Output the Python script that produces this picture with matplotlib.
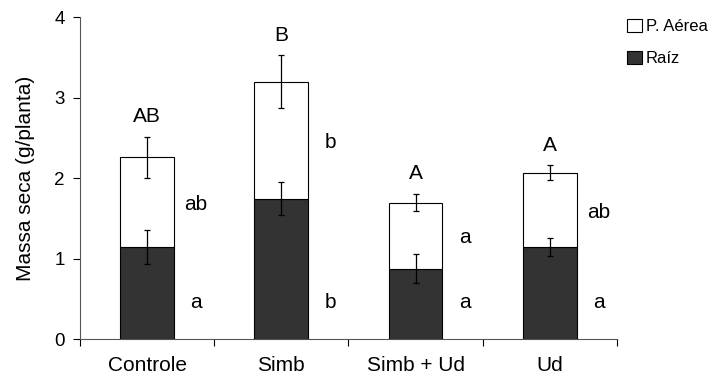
import matplotlib.pyplot as plt
import numpy as np

plt.rcParams['font.family'] = ['Liberation Sans', 'DejaVu Sans']

categories = ['Controle', 'Simb', 'Simb + Ud', 'Ud']
raiz = [1.15, 1.75, 0.88, 1.15]
raiz_err = [0.21, 0.20, 0.18, 0.11]
aerea = [1.11, 1.45, 0.82, 0.92]          # stacked on top of raiz
total_err = [0.26, 0.33, 0.11, 0.095]
upper_letters = ['AB', 'B', 'A', 'A']
aerea_letters = ['ab', 'b', 'a', 'ab']
raiz_letters = ['a', 'b', 'a', 'a']

x = np.arange(len(categories))
raiz = np.array(raiz)
aerea = np.array(aerea)
total = raiz + aerea

fig = plt.figure(figsize=(7.26, 3.78), dpi=100)
ax = fig.add_axes([0.110, 0.102, 0.740, 0.852])

w = 0.4
ax.bar(x, raiz, w, color='#333333', edgecolor='black', linewidth=0.8, label='Raíz')
ax.bar(x, aerea, w, bottom=raiz, color='white', edgecolor='black', linewidth=0.8,
       label='P. Aérea')
ax.errorbar(x, raiz, yerr=raiz_err, fmt='none', ecolor='black', elinewidth=0.9,
            capsize=2.5, capthick=0.9)
ax.errorbar(x, total, yerr=total_err, fmt='none', ecolor='black', elinewidth=0.9,
            capsize=2.5, capthick=0.9)

for i in range(len(categories)):
    ax.text(x[i], total[i] + total_err[i] + 0.25, upper_letters[i], ha='center',
            va='center', fontsize=15)
    ax.text(x[i] + 0.365, raiz[i] + aerea[i] / 2 - 0.03, aerea_letters[i],
            ha='center', va='center', fontsize=15)
    ax.text(x[i] + 0.365, 0.46, raiz_letters[i], ha='center',
            va='center', fontsize=15)

ax.set_xlim(-0.5, 3.5)
ax.set_ylim(0, 4)
ax.set_yticks([0, 1, 2, 3, 4])
ax.tick_params(axis='y', labelsize=13.5, length=5, width=0.8, direction='out', pad=6)
ax.set_xticks(x)
ax.set_xticklabels(categories)
ax.set_xticks(np.arange(-0.5, 4, 1), minor=True)
ax.tick_params(axis='x', which='major', length=0, labelsize=15, pad=12)
ax.tick_params(axis='x', which='minor', length=5, width=0.8, direction='out')
ax.set_ylabel('Massa seca (g/planta)', fontsize=15, labelpad=14)

for s in ['top', 'right']:
    ax.spines[s].set_visible(False)
for s in ['left', 'bottom']:
    ax.spines[s].set_linewidth(0.8)
    ax.spines[s].set_color('#555555')

handles, labels = ax.get_legend_handles_labels()
fig.legend(handles[::-1], labels[::-1], loc='upper left', bbox_to_anchor=(0.855, 0.968),
           frameon=False, fontsize=12, handlelength=0.85, handleheight=0.85,
           handletextpad=0.25, labelspacing=1.0, borderaxespad=0)

fig.savefig('out.png', dpi=100)
